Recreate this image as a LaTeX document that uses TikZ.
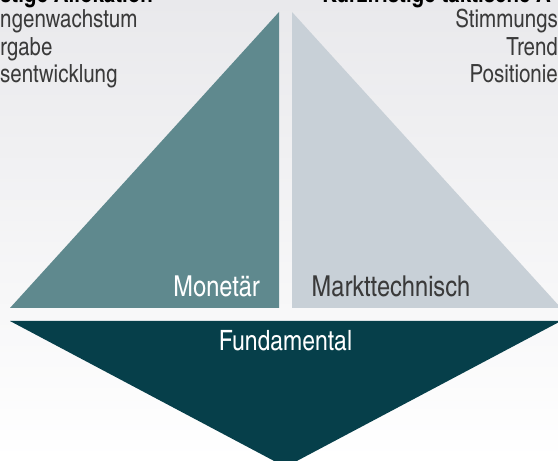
\documentclass[tikz,border=0pt]{standalone}
\usepackage{fontspec}
\setmainfont{texgyreheroscn-regular.otf}[BoldFont=texgyreheroscn-bold.otf]
\usepackage{tikz}
\definecolor{foreground}{HTML}{3A3A3A}
\definecolor{monetary}{HTML}{5F898E}
\definecolor{technical}{HTML}{C8D0D7}
\definecolor{fundamental}{HTML}{063F4A}
\definecolor{backtop}{HTML}{E9E9EC}
\tikzstyle{face}=[draw=none]
\tikzstyle{facetext}=[inner sep=0pt,font=\fontsize{28.8}{29}\selectfont]
\tikzstyle{listtext}=[inner sep=0pt,text=foreground,font=\fontsize{25}{25}\selectfont]
\tikzstyle{headtext}=[inner sep=0pt,text=black,font=\fontsize{25}{25}\selectfont\bfseries]

\begin{document}
\begin{tikzpicture}[x=1pt,y=1pt]

      \shade[top color=backtop,bottom color=white] (0,0) rectangle (558,461);
      \useasboundingbox (0,0) rectangle (558,461);

      % corners of the three faces
      \coordinate (ml) at (10,153);
      \coordinate (mr) at (279,153);
      \coordinate (mt) at (279,449);
      \coordinate (tl) at (292,153);
      \coordinate (tt) at (292,449);
      \coordinate (tr) at (561,153);
      \coordinate (fl) at (10,140);
      \coordinate (fr) at (561,140);
      \coordinate (fb) at (285.5,-6);

      \fill[face,monetary] (ml) -- (mr) -- (mt) -- cycle;
      \fill[face,technical] (tl) -- (tt) -- (tr) -- cycle;
      \fill[face,fundamental] (fl) -- (fr) -- (fb) -- cycle;

      \node[facetext,text=white,anchor=base east] (monetaer) at (260,164) {Monetär};
      \node[facetext,text=foreground,anchor=base west] (markt) at (311.5,164) {Markttechnisch};
      \node[facetext,text=white,anchor=base,font=\fontsize{28}{28}\selectfont] (fundament) at (285.5,110) {Fundamental};

      \node[headtext,anchor=base west] (lefthead) at (0,458.5) {stige Allokation};
      \node[headtext,anchor=base west] (righthead) at (322,458.5) {Kurzfristige taktische A};

      \node[listtext,anchor=base west] (left1) at (0,433) {ngenwachstum};
      \node[listtext,anchor=base west] (left2) at (0,405) {rgabe};
      \node[listtext,anchor=base west] (left3) at (0,378) {sentwicklung};

      \node[listtext,anchor=base east] (right1) at (558,433) {Stimmungs};
      \node[listtext,anchor=base east] (right2) at (558,405) {Trend};
      \node[listtext,anchor=base east] (right3) at (558,378) {Positionie};

    \end{tikzpicture}
\end{document}
